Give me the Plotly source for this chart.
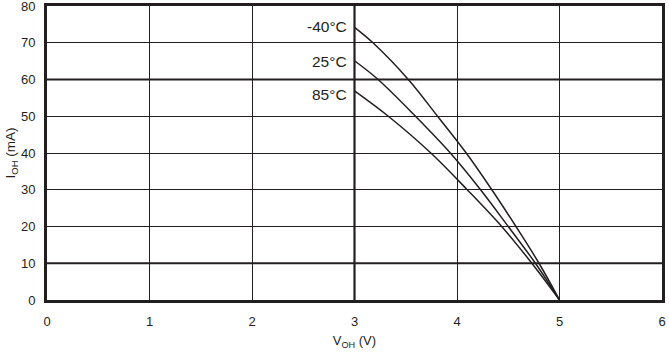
import plotly.graph_objects as go

# Data
temps = ["-40°C", "25°C", "85°C"]
v_m40 = [3.0, 3.18, 3.525, 3.81, 4.09, 4.34, 4.575, 4.80, 5.0]
i_m40 = [74.2, 70, 60, 50, 40, 30, 20, 10, 0]
v_25 = [3.0, 3.23, 3.595, 3.935, 4.23, 4.50, 4.765, 5.0]
i_25 = [65.1, 60, 50, 40, 30, 20, 10, 0]
v_85 = [3.0, 3.33, 3.745, 4.10, 4.436, 4.73, 5.0]
i_85 = [56.9, 50, 40, 30, 20, 10, 0]
x_ticks = [0, 1, 2, 3, 4, 5, 6]
y_ticks = [0, 10, 20, 30, 40, 50, 60, 70, 80]
thick_x = [3]
thick_y = [10, 60]

INK = "#231f20"
FONT = "Liberation Sans, Arial, sans-serif"

fig = go.Figure()
series = [(v_m40, i_m40), (v_25, i_25), (v_85, i_85)]
for name, (xs, ys) in zip(temps, series):
    fig.add_trace(go.Scatter(x=xs, y=ys, mode="lines", name=name,
                             line=dict(color=INK, width=1.5, shape="spline", smoothing=1.0),
                             showlegend=False, hoverinfo="skip"))

shapes = []
for xv in thick_x:
    shapes.append(dict(type="line", xref="x", yref="paper", x0=xv, x1=xv, y0=0, y1=1,
                       line=dict(color=INK, width=2.2), layer="below"))
for yv in thick_y:
    shapes.append(dict(type="line", xref="paper", yref="y", x0=0, x1=1, y0=yv, y1=yv,
                       line=dict(color=INK, width=2.2), layer="below"))

label_shift = [1, -1, -4]
annotations = []
for name, (xs, ys), sh in zip(temps, series, label_shift):
    annotations.append(dict(x=xs[0], y=ys[0], xref="x", yref="y", text=name, showarrow=False,
                            xanchor="right", yanchor="middle", xshift=-6, yshift=sh,
                            font=dict(family=FONT, size=15.5, color=INK)))

fig.update_layout(
    width=669, height=354,
    margin=dict(l=47, r=7, t=6, b=54, autoexpand=False),
    plot_bgcolor="white", paper_bgcolor="white",
    shapes=shapes, annotations=annotations,
    font=dict(family=FONT, size=12, color=INK),
    xaxis=dict(range=[0, 6], tickvals=x_ticks, ticktext=[str(v) for v in x_ticks],
               showgrid=True, gridcolor=INK, gridwidth=1, zeroline=False,
               showline=True, linecolor=INK, linewidth=3, mirror=True,
               ticks="", ticklabelstandoff=7, automargin=False, ticklabeloverflow="allow",
               tickfont=dict(family=FONT, size=13, color=INK),
               title=dict(text="V<sub>OH</sub> (V)", standoff=9,
                          font=dict(family=FONT, size=13, color=INK))),
    yaxis=dict(range=[0, 80], tickvals=y_ticks, ticktext=[str(v) for v in y_ticks],
               showgrid=True, gridcolor=INK, gridwidth=1, zeroline=False,
               showline=True, linecolor=INK, linewidth=3, mirror=True,
               ticks="", ticklabelstandoff=6, automargin=False, ticklabeloverflow="allow",
               tickfont=dict(family=FONT, size=13, color=INK),
               title=dict(text="I<sub>OH</sub> (mA)", standoff=3,
                          font=dict(family=FONT, size=13.5, color=INK))),
)

fig.write_html("out.html")
